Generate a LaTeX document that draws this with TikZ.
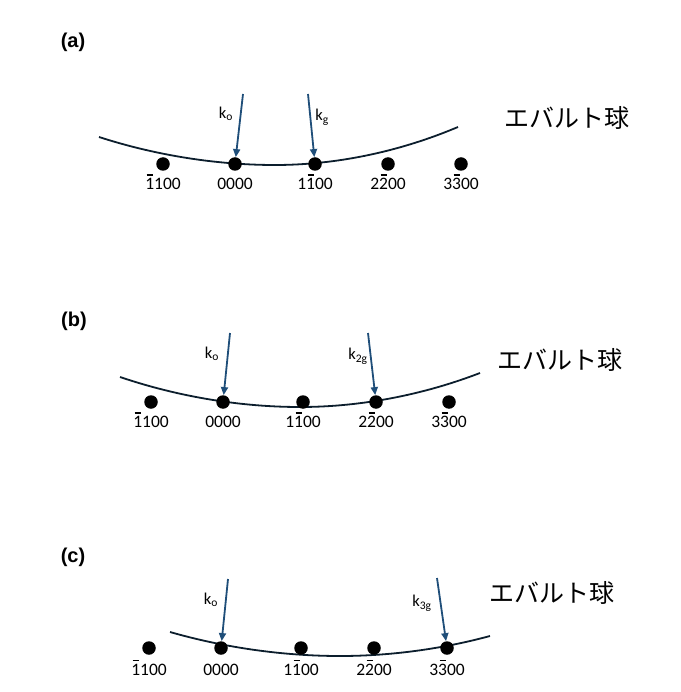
\documentclass[tikz,border=0pt]{standalone}
\usepackage{fontspec}
\setmainfont{Carlito}
\newfontfamily\jpfont{Noto Sans CJK JP}
\newfontfamily\headfont{Liberation Sans}
\usetikzlibrary{positioning,arrows.meta}
\definecolor{kblue}{RGB}{31,78,121}
\definecolor{arcc}{RGB}{12,30,45}
% digit with a bar over it
\newcommand{\nb}[1]{\makebox[0pt][l]{\hspace{0.08em}\rule[0.8em]{0.36em}{1.2pt}}#1}

\begin{document}
\begin{tikzpicture}[x=1pt,y=-1pt,
  dot/.style={circle,fill=black,inner sep=0pt,minimum size=13.5pt},
  idx/.style={font=\fontsize{17.5}{17.5}\selectfont,inner sep=0pt,text height=11pt,text depth=0pt},
  kvec/.style={draw=kblue,line width=1.8pt,-{Triangle[length=8pt,width=7pt]}},
  klab/.style={font=\fontsize{16.5}{16.5}\selectfont},
  sph/.style={font=\jpfont\fontsize{25}{25}\selectfont},
  tag/.style={font=\headfont\bfseries\fontsize{20}{20}\selectfont},
  ewald/.style={draw=arcc,line width=1.8pt}]
\useasboundingbox (0,0) rectangle (680,692);

% (a)
\node (ta) [tag] at (73,42) {(a)};
\draw[ewald] (99,137) parabola bend (275,165) (458,127);
\foreach \n/\x/\t in {1/163/{\nb{1}100},2/235/0000,3/315/{1\nb{1}00},4/388/{2\nb{2}00},5/461/{3\nb{3}00}}{
  \node (a\n) [dot] at (\x,164) {};
  \node (la\n) [idx,below=7.5pt of a\n] {\t};
}
\coordinate (ka) at (243,94);
\coordinate (ga) at (308,94);
\draw[kvec] (ka) -- (a2);
\draw[kvec] (ga) -- (a3);
\node (kao) [klab] at (226,114) {k\textsubscript{o}};
\node (kag) [klab] at (322,117) {k\textsubscript{g}};
\node (sa) [sph] at (567,118) {エバルト球};

% (b)
\node (tb) [tag] at (74,321) {(b)};
\draw[ewald] (120,377) parabola bend (300,407) (480,373);
\foreach \n/\x/\t in {1/151/{\nb{1}100},2/223/0000,3/303/{1\nb{1}00},4/376/{2\nb{2}00},5/449/{3\nb{3}00}}{
  \node (b\n) [dot] at (\x,402) {};
  \node (lb\n) [idx,below=7.5pt of b\n] {\t};
}
\coordinate (kb) at (230,333);
\coordinate (gb) at (368,333);
\draw[kvec] (kb) -- (b2);
\draw[kvec] (gb) -- (b4);
\node (kbo) [klab] at (212,354) {k\textsubscript{o}};
\node (kbg) [klab] at (358,356) {k\textsubscript{2g}};
\node (sb) [sph] at (560,360) {エバルト球};

% (c)
\node (tc) [tag] at (73,557) {(c)};
\draw[ewald] (170,632) parabola bend (340,656) (490,636);
\foreach \n/\x/\t in {1/149/{\nb{1}100},2/221/0000,3/301/{1\nb{1}00},4/374/{2\nb{2}00},5/447/{3\nb{3}00}}{
  \node (c\n) [dot] at (\x,648) {};
  \node (lc\n) [idx,below=9pt of c\n] {\t};
}
\coordinate (kc) at (228,579);
\coordinate (gc) at (437,578);
\draw[kvec] (kc) -- (c2);
\draw[kvec] (gc) -- (c5);
\node (kco) [klab] at (211,600) {k\textsubscript{o}};
\node (kcg) [klab] at (422,603) {k\textsubscript{3g}};
\node (sc) [sph] at (552,593) {エバルト球};
\end{tikzpicture}
\end{document}
